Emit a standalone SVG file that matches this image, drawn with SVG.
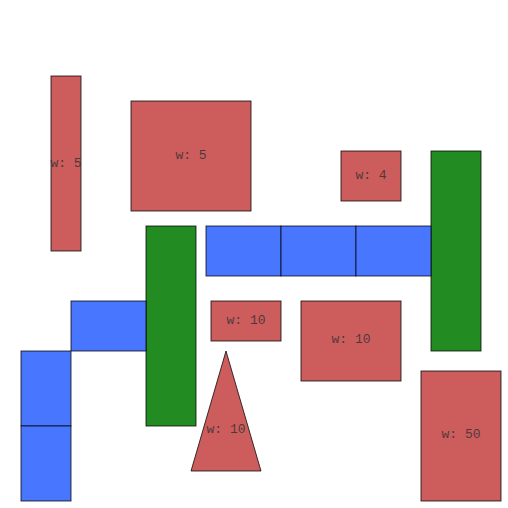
<svg xmlns="http://www.w3.org/2000/svg" width="508" height="508" viewBox="0 0 508 508">
<style>
.r{fill:#cd5c5c;stroke:#000;stroke-opacity:0.75;stroke-width:1}
.g{fill:#228b22;stroke:#000;stroke-opacity:0.75;stroke-width:1}
.b{fill:#4876ff;stroke:#000;stroke-opacity:0.75;stroke-width:1}
text{font-family:"Liberation Mono","DejaVu Sans Mono",monospace;font-size:13px;fill:#333;fill-opacity:0.85;text-anchor:middle;dominant-baseline:central}
</style>
<rect width="508" height="508" fill="#fff"/>
<g id="n1"><rect class="r" x="51" y="76" width="30" height="175"/><text x="66" y="163">w: 5</text></g>
<g id="n2"><rect class="r" x="131" y="101" width="120" height="110"/><text x="191" y="155">w: 5</text></g>
<g id="n3"><rect class="r" x="341" y="151" width="60" height="50"/><text x="371" y="175">w: 4</text></g>
<g id="n4"><rect class="g" x="431" y="151" width="50" height="200"/></g>
<g id="n5"><rect class="b" x="206" y="226" width="75" height="50"/></g>
<g id="n6"><rect class="b" x="281" y="226" width="75" height="50"/></g>
<g id="n7"><rect class="b" x="356" y="226" width="75" height="50"/></g>
<g id="n8"><rect class="g" x="146" y="226" width="50" height="200"/></g>
<g id="n9"><rect class="b" x="71" y="301" width="75" height="50"/></g>
<g id="n10"><rect class="b" x="21" y="351" width="50" height="75"/></g>
<g id="n11"><rect class="b" x="21" y="426" width="50" height="75"/></g>
<g id="n12"><rect class="r" x="211" y="301" width="70" height="40"/><text x="246" y="320">w: 10</text></g>
<g id="n13"><rect class="r" x="301" y="301" width="100" height="80"/><text x="351" y="339">w: 10</text></g>
<g id="n14"><polygon class="r" points="226,351 261,471 191,471"/><text x="226" y="429">w: 10</text></g>
<g id="n15"><rect class="r" x="421" y="371" width="80" height="130"/><text x="461" y="434">w: 50</text></g>
<g id="connectors"></g>
</svg>
